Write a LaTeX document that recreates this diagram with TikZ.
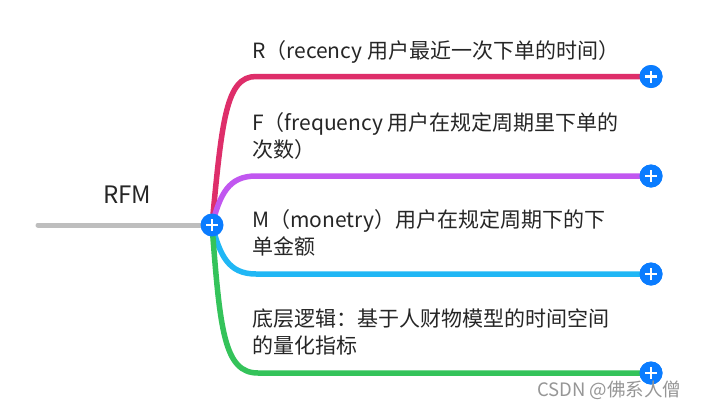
\documentclass[tikz,border=0pt]{standalone}
\usepackage{fontspec}
\setmainfont{Noto Sans CJK SC}
\definecolor{cred}{RGB}{222,46,106}
\definecolor{cpurple}{RGB}{193,87,240}
\definecolor{ccyan}{RGB}{32,183,245}
\definecolor{cgreen}{RGB}{52,195,90}
\definecolor{cblue}{RGB}{10,124,255}
\definecolor{cgray}{RGB}{190,190,190}
\definecolor{cwater}{RGB}{150,150,150}
\tikzset{
  branch/.style={line width=5.5pt},
  rootline/.style={line width=5pt, color=cgray, line cap=round},
  plusdot/.style={circle, fill=cblue, minimum size=23pt, inner sep=0pt,
    path picture={\draw[white, line width=2.6pt]
      ([xshift=-6pt]path picture bounding box.center) -- ([xshift=6pt]path picture bounding box.center)
      ([yshift=-6pt]path picture bounding box.center) -- ([yshift=6pt]path picture bounding box.center);}},
  label/.style={anchor=base west, inner sep=0pt, align=left, font=\fontsize{21}{27}\selectfont, text=black!85},
}
\begin{document}
\begin{tikzpicture}[x=1pt,y=-1pt]
\useasboundingbox[fill=white] (0,0) rectangle (702,408);
% anchors
\coordinate (hubc) at (212,225);
\coordinate (rootend) at (38,225);
\coordinate (rA) at (256,76.5);
\coordinate (fA) at (256,176);
\coordinate (mA) at (256,274);
\coordinate (bA) at (258,373);
% end plus nodes
\node[plusdot] (rEnd) at (651,76.5) {};
\node[plusdot] (fEnd) at (651,176) {};
\node[plusdot] (mEnd) at (651,274) {};
\node[plusdot] (bEnd) at (651,373) {};
% branches
\draw[branch, cred] (hubc) .. controls (222,120) and (226,76.5) .. (rA) -- (rEnd.center);
\draw[branch, cpurple] (hubc) .. controls (220,195) and (228,176) .. (fA) -- (fEnd.center);
\draw[branch, ccyan] (hubc) .. controls (220,255) and (228,274) .. (mA) -- (mEnd.center);
\draw[branch, cgreen] (hubc) .. controls (220,330) and (224,373) .. (bA) -- (bEnd.center);
\draw[rootline] (rootend) -- (hubc);
% redraw end dots on top
\node[plusdot] at (rEnd) {};
\node[plusdot] at (fEnd) {};
\node[plusdot] at (mEnd) {};
\node[plusdot] at (bEnd) {};
\node[plusdot] (hub) at (hubc) {};
% texts (base anchor of a two-line node is on its last line)
\node[anchor=base, inner sep=0pt, font=\fontsize{24}{28}\selectfont, text=black!85] (rfm) at (127,203) {RFM};
\node[label] (rtext) at (252,58) {R（recency 用户最近一次下单的时间）};
\node[label] (ftext) at (252,157) {F（frequency 用户在规定周期里下单的\\次数）};
\node[label] (mtext) at (252,254) {M（monetry）用户在规定周期下的下\\单金额};
\node[label] (btext) at (252,353) {底层逻辑：基于人财物模型的时间空间\\的量化指标};
\node[anchor=base west, inner sep=0pt, font=\fontsize{18.5}{22}\selectfont, text=cwater] (wm) at (537,396) {CSDN @佛系人僧};
\end{tikzpicture}
\end{document}
